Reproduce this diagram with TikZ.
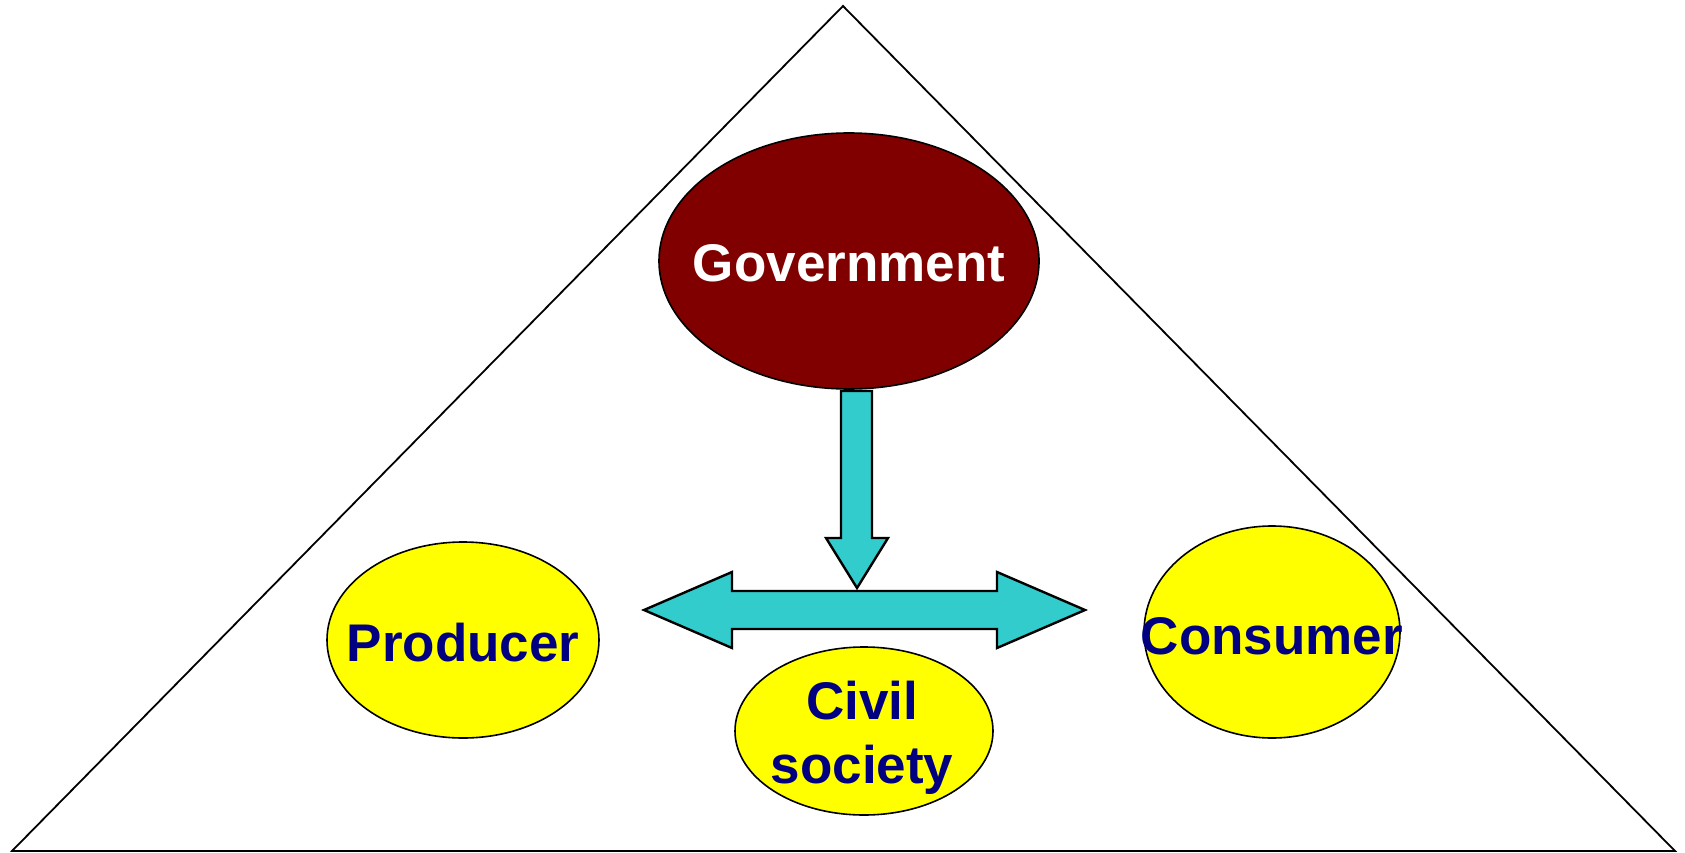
\documentclass[tikz,border=0pt]{standalone}
\usepackage{fontspec}
\setmainfont{Liberation Sans}
\usetikzlibrary{shapes.geometric}
\definecolor{govred}{HTML}{800000}
\definecolor{actyellow}{HTML}{FFFF00}
\definecolor{arrowcyan}{HTML}{33CCCC}
\definecolor{textnavy}{HTML}{000080}
\tikzset{
  actor/.style={ellipse, draw=black, line width=1.6pt, inner sep=0pt},
  label/.style={font=\fontsize{53}{64}\selectfont\bfseries, align=center, inner sep=0pt},
  flow/.style={draw=black, line width=2.4pt, fill=arrowcyan, line join=miter},
}
\begin{document}
\begin{tikzpicture}[x=1pt,y=-1pt]
\useasboundingbox (0,0) rectangle (1685,853);
% triangle
\draw[line width=1.8pt, line join=miter] (843,6) -- (12,851) -- (1675,851) -- cycle;
% actors
\node[actor, fill=govred, minimum width=380pt, minimum height=256pt] (gov) at (849,261) {};
\node[label, text=white] (govt) at (849,263) {Government};
\node[actor, fill=actyellow, minimum width=272pt, minimum height=196pt] (prod) at (463,640) {};
\node[label, text=textnavy] (prodt) at (463,643) {Producer};
\node[actor, fill=actyellow, minimum width=256pt, minimum height=212pt] (cons) at (1272,632) {};
\node[label, text=textnavy] (const) at (1272,636) {Consumer};
\node[actor, fill=actyellow, minimum width=258pt, minimum height=168pt] (civ) at (864,731) {};
\node[label, text=textnavy] (civt) at (862,738) {Civil\\society};
% down arrow
\draw[flow] (841,391) -- (872,391) -- (872,538) -- (888,538) -- (857,588) -- (826,538) -- (841,538) -- cycle;
% double arrow
\draw[flow] (644,610) -- (732,572) -- (732,591) -- (997,591) -- (997,572) -- (1085,610)
  -- (997,648) -- (997,629) -- (732,629) -- (732,648) -- cycle;
\end{tikzpicture}
\end{document}
